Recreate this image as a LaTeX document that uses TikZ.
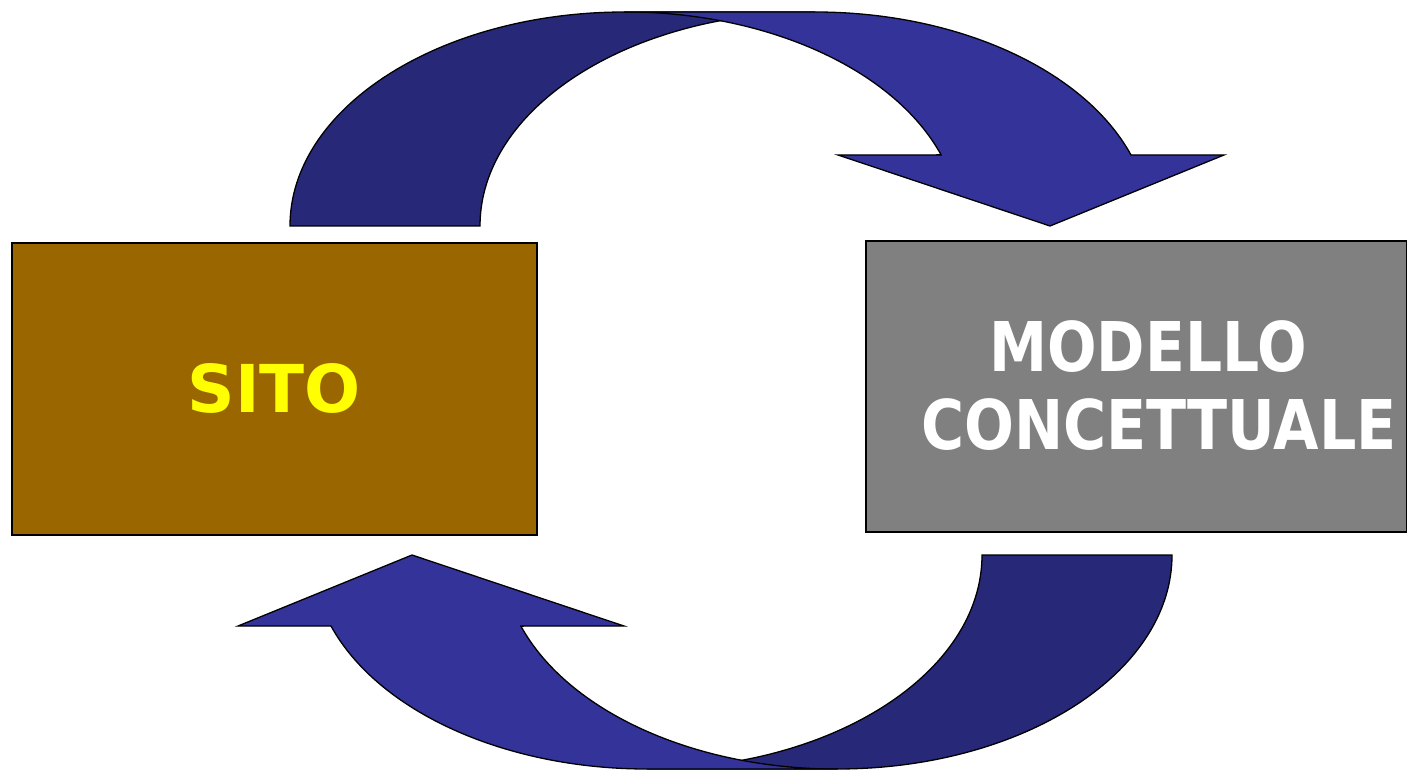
\documentclass[tikz,border=0pt]{standalone}
\usepackage{fontspec}
\setmainfont{DejaVu Sans}
\definecolor{arrowdark}{HTML}{282879}
\definecolor{arrowfront}{HTML}{333399}
\definecolor{sitofill}{HTML}{996600}
\definecolor{modfill}{HTML}{808080}
\tikzset{
  darkpart/.style={fill=arrowdark, draw=black, line width=1.3pt, line join=miter},
  frontpart/.style={fill=arrowfront, draw=black, line width=1.3pt, line join=miter},
  boxstyle/.style={draw=black, line width=1.3pt, inner sep=0pt, rectangle},
  bigtext/.style={font=\bfseries\fontsize{66}{80}\selectfont, inner sep=0pt}
}
\begin{document}
\begin{tikzpicture}[x=1pt,y=1pt]
\useasboundingbox (0,0) rectangle (1407,769);
% nodes
\node[boxstyle, fill=sitofill, minimum width=525pt, minimum height=292pt] (sito) at (274.5,380) {};
\node[boxstyle, fill=modfill, minimum width=541pt, minimum height=291pt] (modello) at (1136.5,382.5) {};
\node[bigtext, text={rgb,255:red,255;green,255;blue,0}] (sitotext) at (274.5,381) {SITO};
\node[bigtext, text=white] (mod1) at (1148,422) {\scalebox{0.85}[1]{\fontsize{68.6}{80}\selectfont MODELLO}};
\node[bigtext, text=white] (mod2) at (1159,344.5) {\scalebox{0.856}[1]{\fontsize{68.6}{80}\selectfont CONCETTUALE}};
% curved arrow
\def\curvedarrow{%
  \path[darkpart] (290,543) arc[start angle=180,end angle=90,x radius=335pt,y radius=214pt]
     -- (815,757) arc[start angle=90,end angle=180,x radius=335pt,y radius=214pt] -- cycle;
  \path[frontpart] (625,757) -- (815,757) arc[start angle=90,end angle=19.38,x radius=335pt,y radius=214pt]
     -- (1224,614) -- (1050,543) -- (838,614) -- (941.1,614.1)
     arc[start angle=19.38,end angle=90,x radius=335pt,y radius=214pt] -- cycle;
}
\curvedarrow
\begin{scope}[rotate around={180:(731,378.5)}]
\curvedarrow
\end{scope}
\end{tikzpicture}
\end{document}
